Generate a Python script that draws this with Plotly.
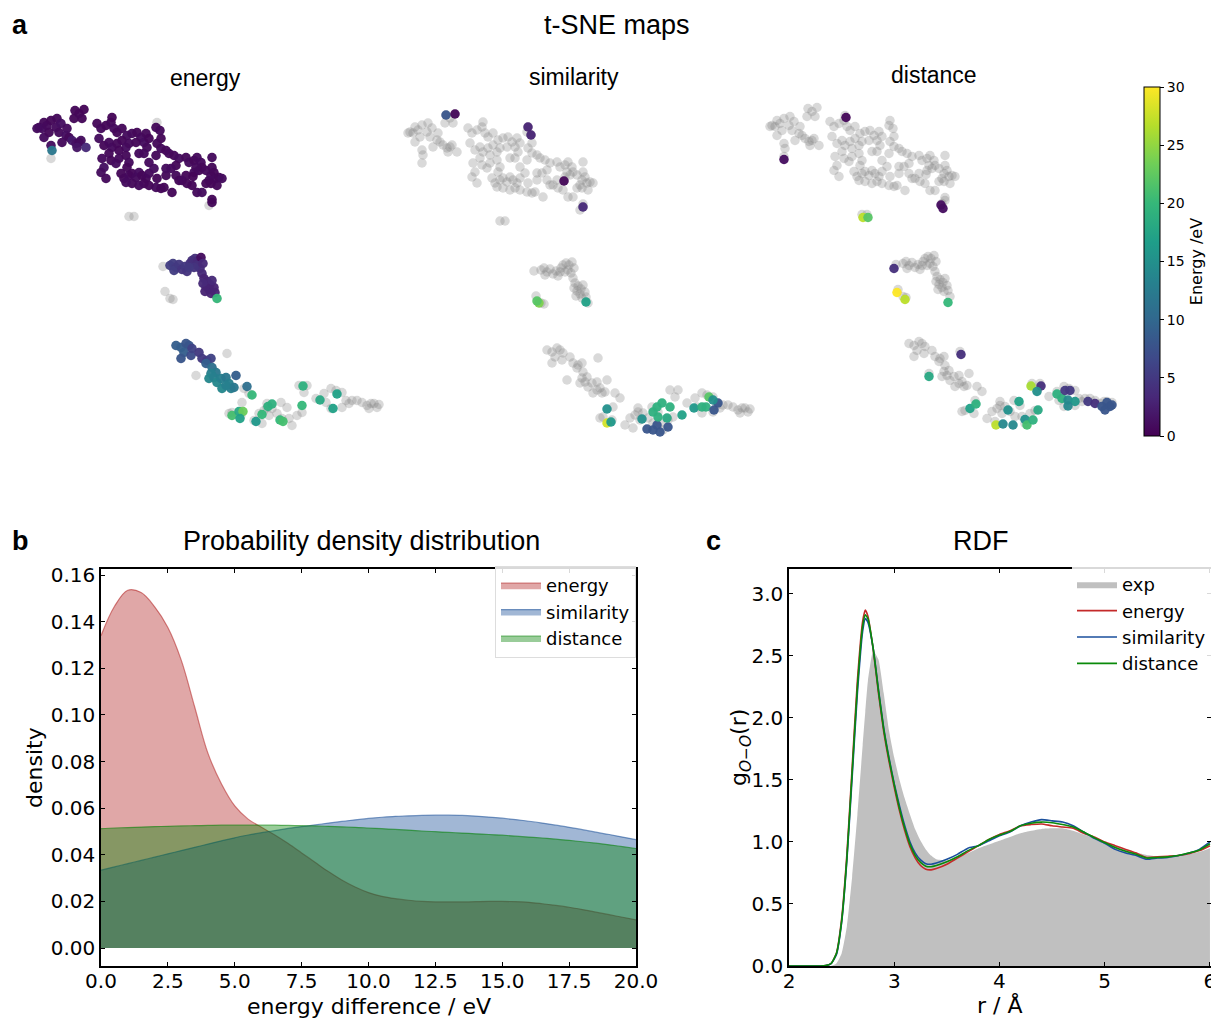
import plotly.graph_objects as go

W, H = 1211, 1018

# ---------------- t-SNE embedding (arbitrary units, y grows downward) ----------------
TOP_X = [10, 15, 13, 8, 18, 22, 28, 27, 32, 30, 38, 37, 40, 43, 47, 50, 52, 48, 57, 33,
         15, 20, 22, 23, 22, 45, 53, 50, 46, 55,
         68, 72, 77, 82, 83, 85, 88, 93, 98, 103, 108, 112, 117, 115, 118, 120, 127, 70, 75, 80,
         83, 88, 93, 97, 100, 90, 80, 73, 82, 87, 90, 97, 100, 98, 75, 72, 77, 92, 95, 100,
         103, 107, 110, 113, 117, 120, 125, 115, 110, 103, 97, 120, 127, 132, 135, 132, 137, 140, 145, 150,
         147, 142, 137, 147, 150, 157, 160, 165, 168, 172, 173, 170, 165, 167, 157, 153, 158, 163, 168, 173,
         177, 180, 182, 185, 187, 190, 193, 188, 183, 182, 177, 183, 132, 110, 127, 137, 143, 115, 107, 128,
         120, 128, 128, 131, 164, 183, 180, 183]
TOP_Y = [32, 27, 33, 33, 30, 25, 23, 32, 28, 37, 33, 40, 42, 45, 48, 47, 45, 52, 52, 47,
         42, 37, 50, 55, 63, 23, 23, 18, 15, 14,
         28, 33, 30, 27, 22, 33, 37, 33, 40, 38, 37, 42, 38, 47, 52, 43, 32, 43, 50, 47,
         52, 48, 45, 52, 48, 55, 58, 63, 65, 68, 63, 60, 67, 72, 72, 77, 83, 78, 83, 80,
         78, 82, 77, 80, 83, 78, 73, 88, 90, 88, 87, 90, 92, 93, 92, 53, 55, 58, 60, 63,
         70, 73, 80, 80, 85, 62, 67, 65, 62, 67, 72, 75, 77, 72, 80, 85, 88, 90, 97, 97,
         88, 85, 80, 77, 83, 82, 83, 90, 62, 88, 75, 72, 43, 58, 60, 73, 97, 58, 47, 48,
         67, 83, 27, 35, 81, 107, 110, 104]
# energies of the top-cluster points picked in the "energy" map (None = not picked)
TOP_E = [0.8, 0.6, 1.0, 0.9, 0.7, 0.5, 0.6, 0.8, 1.2, 0.7, 0.9, 1.1, 0.6, 2.0, 1.4, 0.8, 0.9, 1.6, 3.5, 0.7,
         0.9, 0.6, 1.0, 12.0, None, 0.5, 0.4, 0.6, 0.5, 0.3,
         0.5, 0.7, 0.4, 0.6, 0.3, 0.8, 0.5, 0.6, 0.9, 0.7, 0.5, 0.8, 0.6, 1.0, 0.7, 0.4, 0.6, 0.9, 0.5, 0.7,
         0.8, 0.6, 0.5, 0.9, 0.7, 0.4, 0.6, 0.8, 0.5, 1.0, 0.7, 0.6, 0.8, 0.5, 1.2, 0.9, 0.7, 0.5, 0.6, 0.8,
         0.4, 0.7, 0.9, 0.5, 0.6, 0.8, 1.0, 0.5, 0.7, 0.6, 0.9, 0.5, 0.7, 0.4, 0.6, 0.8, 0.5, 0.7, 0.6, 0.9,
         0.5, 0.8, 0.6, 0.7, 0.4, 0.6, 0.9, 0.5, 0.7, 0.8, 0.6, 0.5, 0.9, 0.7, 0.4, 0.8, 0.6, 0.5, 0.7, 0.9,
         0.5, 0.6, 0.8, 0.4, 0.7, 0.5, 0.9, 0.6, 0.8, 0.5, 0.7, 0.6, 0.5, 0.8, 0.6, 0.9, 0.4, 0.7, 0.5, 0.6,
         0.8, 0.5, None, 0.7, 0.3, 0.6, None, 0.5]

MID_X = [134, 141, 144, 147, 145, 150, 153, 156, 158, 161, 163, 166, 169, 172, 168, 171, 165, 160, 174, 173,
         175, 178, 181, 177, 174, 180, 185, 183, 176, 182, 186, 188, 136, 141, 144]
MID_Y = [171, 170, 168, 172, 175, 169, 174, 171, 176, 168, 165, 163, 165, 162, 170, 173, 172, 172, 168, 178,
         183, 186, 189, 191, 188, 194, 192, 185, 196, 198, 197, 203, 196, 203, 204]
MID_E = [None, 5.5, 5.5, 5, 5.5, 5, 4.5, 5, 4.5, 4.5, 4, 4, 3.5, 1.0, 4, 4, 4.5, 5, 3.5, 3.5,
         3, 3, 3, 3, 3.5, 3, 3, 3.5, 3, 3, 3, 20, None, None, None]

BOT_X = [147, 152, 157, 160, 155, 152, 162, 163, 170, 173, 178, 182, 177, 183, 187, 182, 180, 185, 188, 192,
         197, 200, 202, 205, 207, 193, 197,
         215, 220, 203, 200, 213, 212, 225, 230, 233, 238, 238, 243, 248, 253, 260, 263, 268, 273, 270, 278,
         275, 287, 295, 297, 302, 307, 313, 317, 320, 323, 328, 333, 338, 342, 345, 348, 350, 340, 313, 302,
         240, 235, 252, 258, 198, 167]
BOT_Y = [250, 252, 248, 250, 257, 263, 260, 253, 257, 263, 265, 263, 268, 272, 277, 278, 283, 282, 287, 283,
         282, 288, 293, 292, 280, 293, 290,
         293, 298, 317, 318, 307, 320, 325, 318, 328, 308, 312, 313, 318, 323, 323, 330, 320, 317, 290, 290,
         297, 303, 298, 307, 293, 295, 297, 305, 308, 305, 305, 307, 310, 308, 308, 312, 309, 313, 312, 313,
         320, 315, 307, 312, 258, 280]
# energies of the first bottom-cluster points picked in the "energy" map
EN_BOT_E = [9, 9, 8, 8, 9, 8, 7, 6, 5, 5, 5, 6, 9, 11, 12, 13, 14, 13, 14, 13, 12, 13, 13, 12, 9, 14, 13]

ISO_X = [100, 105]
ISO_Y = [121, 121]

# further points picked in the "energy" map
EN_EX_X = [223, 203, 210, 214, 211, 227, 233, 239, 243, 251, 254, 274, 273, 291, 304, 308, 218]
EN_EX_Y = [299.5, 320, 316, 316, 323, 326, 319, 311, 308.5, 324.5, 326, 290.5, 310, 304.5, 313, 298.5, 291]
EN_EX_E = [20, 21, 18, 23, 17, 16, 20, 19, 19, 20, 21, 19, 20, 18, 17, 17, 11]

# points picked in the "similarity" map
SIM_X = [46, 55, 128, 131, 164, 183, 139, 137, 186,
         207, 207, 211, 247, 253, 260, 257, 268, 242, 253, 257, 262, 270, 258, 267, 282, 294, 302, 306, 309,
         318, 314, 313]
SIM_Y = [15, 14, 27, 35, 81, 107, 203, 201, 202,
         309, 323, 322, 329, 330, 332, 325, 327, 319, 312, 307, 303, 307, 317, 318, 315, 308, 307, 307, 297,
         303, 310, 300]
SIM_E = [8, 0.5, 3, 3, 0.5, 3.5, 24, 22, 17,
         15, 28, 16, 8, 8, 8, 8, 8, 15, 19, 19, 19, 19, 19, 18, 17, 16, 19, 19, 22,
         8, 8, 15]

# points picked in the "distance" map
DIS_X = [84, 22, 179, 181, 101, 106, 132, 135, 143, 186, 199, 167,
         208, 214, 234, 241, 251, 246, 257, 263, 265, 271, 276, 269, 279, 275, 295, 300, 303, 308,
         306, 313, 306, 326, 333, 340, 345, 348, 343, 350]
DIS_Y = [24, 66, 111.5, 115, 124, 124, 175, 199, 206, 209, 261, 283,
         315, 310.5, 331.5, 330.5, 331.5, 316.5, 308, 326, 331.5, 326.5, 316.5, 292.5, 292.5, 298, 300.5, 305,
         297, 297, 306.5, 308, 312.5, 308, 310, 313, 309, 313, 316.5, 311.5]
DIS_E = [0.5, 1, 1, 1, 27, 22, 4, 30, 27, 20, 4, 18,
         17, 19, 27, 14, 14, 15, 17, 15, 21, 19, 18, 26, 4, 15, 19, 19, 5, 5,
         14, 16, 14, 5, 4, 8, 8, 8, 8, 8]

MAP_TITLES = ["energy", "similarity", "distance"]
CBAR_TICKS = [0, 5, 10, 15, 20, 25, 30]

# ---------------- probability density ----------------
KDE_X = [0, 0.5, 1, 1.5, 2, 2.5, 3, 3.5, 4, 4.5, 5, 5.5, 6, 6.5, 7, 7.5, 8, 8.5, 9, 9.5, 10,
         10.5, 11, 11.5, 12, 12.5, 13, 13.5, 14, 14.5, 15, 15.5, 16, 16.5, 17, 17.5, 18, 18.5, 19, 19.5, 20]
KDE_ENERGY = [0.134, 0.1465, 0.1535, 0.1525, 0.1465, 0.1375, 0.1235, 0.1035, 0.0835, 0.0705, 0.061, 0.0553,
              0.0518, 0.0485, 0.0448, 0.0408, 0.0368, 0.0328, 0.0292, 0.0262, 0.0238, 0.0222, 0.0212,
              0.0205, 0.0200, 0.0198, 0.0198, 0.0198, 0.0199, 0.0200, 0.0200, 0.0199, 0.0196, 0.0190,
              0.0183, 0.0175, 0.0165, 0.0154, 0.0143, 0.0132, 0.0121]
KDE_SIMILARITY = [0.0334, 0.0348, 0.0362, 0.0376, 0.039, 0.0404, 0.0418, 0.0432, 0.0446, 0.046, 0.0473,
                  0.0485, 0.0495, 0.0504, 0.0513, 0.0521, 0.0528, 0.0536, 0.0543, 0.055, 0.0556, 0.0561,
                  0.0565, 0.0567, 0.0569, 0.057, 0.057, 0.0569, 0.0566, 0.0562, 0.0557, 0.0551, 0.0544,
                  0.0536, 0.0527, 0.0518, 0.0508, 0.0497, 0.0487, 0.0476, 0.0465]
KDE_DISTANCE = [0.0512, 0.0515, 0.0517, 0.0519, 0.0521, 0.0522, 0.0524, 0.0525, 0.0526, 0.0527, 0.0527,
                0.0527, 0.0527, 0.0527, 0.0526, 0.0525, 0.0524, 0.0522, 0.052, 0.0518, 0.0515, 0.0512,
                0.0509, 0.0506, 0.0502, 0.0499, 0.0496, 0.0493, 0.049, 0.0487, 0.0484, 0.048, 0.0476,
                0.0472, 0.0467, 0.0462, 0.0456, 0.045, 0.0443, 0.0435, 0.0427]

# ---------------- RDF ----------------
R = [2.0, 2.3, 2.35, 2.4, 2.45, 2.5, 2.55, 2.6, 2.65, 2.7, 2.725, 2.75, 2.8, 2.85, 2.9, 2.95, 3.0, 3.05,
     3.1, 3.15, 3.2, 3.25, 3.3, 3.35, 3.4, 3.5, 3.6, 3.7, 3.8, 3.9, 4.0, 4.1, 4.2, 4.3, 4.4, 4.5, 4.6,
     4.7, 4.8, 4.9, 5.0, 5.1, 5.2, 5.3, 5.4, 5.5, 5.6, 5.7, 5.8, 5.9, 6.0]
G_EXP = [0, 0, 0, 0, 0.02, 0.1, 0.32, 0.72, 1.22, 1.78, 2.05, 2.3, 2.54, 2.47, 2.2, 1.9, 1.68, 1.5,
         1.35, 1.22, 1.1, 1.01, 0.94, 0.89, 0.86, 0.85, 0.87, 0.91, 0.95, 0.98, 1.01, 1.04, 1.07, 1.09,
         1.105, 1.11, 1.11, 1.09, 1.06, 1.03, 1.0, 0.97, 0.94, 0.915, 0.895, 0.885, 0.885, 0.89, 0.9,
         0.92, 0.95]
G_ENERGY = [0, 0, 0.003, 0.02, 0.1, 0.38, 0.9, 1.6, 2.3, 2.78, 2.87, 2.82, 2.55, 2.2, 1.89, 1.65, 1.44,
            1.25, 1.09, 0.96, 0.87, 0.81, 0.78, 0.775, 0.785, 0.82, 0.87, 0.92, 0.97, 1.02, 1.06, 1.09, 1.13,
            1.14, 1.145, 1.13, 1.12, 1.11, 1.07, 1.04, 1.0, 0.97, 0.94, 0.91, 0.875, 0.88, 0.885, 0.89,
            0.905, 0.93, 0.97]
G_SIMILARITY = [0, 0, 0.003, 0.02, 0.09, 0.35, 0.85, 1.52, 2.2, 2.7, 2.8, 2.77, 2.56, 2.23, 1.92, 1.68,
                1.47, 1.29, 1.13, 1.0, 0.91, 0.855, 0.825, 0.82, 0.83, 0.86, 0.9, 0.95, 0.97, 1.01, 1.05,
                1.08, 1.13, 1.16, 1.18, 1.17, 1.16, 1.13, 1.08, 1.03, 0.99, 0.94, 0.91, 0.89, 0.86, 0.87,
                0.875, 0.89, 0.91, 0.94, 1.0]
G_DISTANCE = [0, 0, 0.003, 0.02, 0.1, 0.36, 0.87, 1.56, 2.25, 2.74, 2.83, 2.8, 2.56, 2.22, 1.91, 1.67,
              1.46, 1.27, 1.11, 0.98, 0.89, 0.835, 0.805, 0.8, 0.81, 0.84, 0.88, 0.93, 0.97, 1.02, 1.055,
              1.085, 1.13, 1.15, 1.16, 1.155, 1.14, 1.12, 1.08, 1.035, 0.995, 0.955, 0.925, 0.9, 0.87,
              0.875, 0.88, 0.89, 0.91, 0.935, 0.985]

# ---------------- styling ----------------
SANS = "Liberation Sans, Arial, sans-serif"
DJV = "DejaVu Sans, sans-serif"
PAGE_OFF = 0  # body margin is removed below, so the figure starts at the window corner


def px_x(p):
    return (p - PAGE_OFF) / W


def px_y(p):
    return 1 - (p - PAGE_OFF) / H


fig = go.Figure()

# map placement: window-pixel offset of embedding origin in each panel
MAP_OFF = [(29, 95.5), (400, 100), (762, 93.5)]
XR = [-5, 360]
YR = [-10, 345]

grey_x = TOP_X + MID_X + BOT_X + ISO_X
grey_y = TOP_Y + MID_Y + BOT_Y + ISO_Y

en_x, en_y, en_e = [], [], []
for xs, ys, es in ((TOP_X, TOP_Y, TOP_E), (MID_X, MID_Y, MID_E), (BOT_X, BOT_Y, EN_BOT_E)):
    for x, y, e in zip(xs, ys, es):
        if e is not None:
            en_x.append(x)
            en_y.append(y)
            en_e.append(e)
en_x += EN_EX_X
en_y += EN_EX_Y
en_e += EN_EX_E

picked = [(en_x, en_y, en_e), (SIM_X, SIM_Y, SIM_E), (DIS_X, DIS_Y, DIS_E)]

for i in range(3):
    ax = "" if i == 0 else str(i + 1)
    xa, ya = "x" + ax, "y" + ax
    fig.add_trace(go.Scatter(x=grey_x, y=grey_y, mode="markers", xaxis=xa, yaxis=ya,
                             marker=dict(size=9.5, color="grey", opacity=0.3),
                             showlegend=False, hoverinfo="skip"))
    px_, py_, pe_ = picked[i]
    fig.add_trace(go.Scatter(
        x=px_, y=py_, mode="markers", xaxis=xa, yaxis=ya, showlegend=False,
        marker=dict(size=9.5, color=pe_, colorscale="Viridis", cmin=0, cmax=30, opacity=0.95,
                    showscale=(i == 0),
                    colorbar=dict(x=px_x(1144), xanchor="left", xpad=0, ypad=0,
                                  y=px_y((87 + 436) / 2), yanchor="middle",
                                  len=349 / H, lenmode="fraction", thickness=16,
                                  outlinewidth=1, outlinecolor="black",
                                  tickvals=CBAR_TICKS, ticks="outside", ticklen=4,
                                  tickcolor="black",
                                  tickfont=dict(family=DJV, size=14, color="black"),
                                  title=dict(text="Energy /eV", side="right",
                                             font=dict(family=DJV, size=16, color="black")))),
    ))
    ox, oy = MAP_OFF[i]
    fig.layout["xaxis" + ax] = dict(domain=[px_x(ox + XR[0]), px_x(ox + XR[1])], range=XR,
                                    visible=False, anchor=ya, automargin=False)
    fig.layout["yaxis" + ax] = dict(domain=[px_y(oy + YR[1]), px_y(oy + YR[0])],
                                    range=[YR[1], YR[0]], visible=False, anchor=xa,
                                    automargin=False)

# ---------------- panel b ----------------
kde_specs = [("energy", KDE_ENERGY, "rgba(178,34,34,0.4)", "rgba(178,34,34,0.55)"),
             ("similarity", KDE_SIMILARITY, "rgba(20,75,150,0.4)", "rgba(20,75,150,0.55)"),
             ("distance", KDE_DISTANCE, "rgba(0,128,0,0.4)", "rgba(0,128,0,0.55)")]
for name, ys, fc, lc in kde_specs:
    fig.add_trace(go.Scatter(x=KDE_X, y=ys, mode="lines", fill="tozeroy", fillcolor=fc,
                             line=dict(color=lc, width=1.2, shape="spline", smoothing=1.0),
                             name=name, xaxis="x4", yaxis="y4", legend="legend"))

axis_common = dict(ticks="inside", ticklen=4, tickwidth=1, tickcolor="black", showline=True,
                   linecolor="black", linewidth=1.5, mirror="ticks", showgrid=False, zeroline=False,
                   automargin=False,
                   tickfont=dict(family=DJV, size=20, color="black"))
fig.layout["xaxis4"] = dict(domain=[px_x(101), px_x(636)], range=[0, 20], tick0=0, dtick=2.5,
                            tickformat=".1f", anchor="y4", ticklabelstandoff=-4, **axis_common)
fig.layout["yaxis4"] = dict(domain=[px_y(966), px_y(569)], range=[-0.0077, 0.1626], tick0=0,
                            dtick=0.02, tickformat=".2f", anchor="x4", **axis_common)

# ---------------- panel c ----------------
fig.add_trace(go.Scatter(x=R, y=G_EXP, mode="lines", fill="tozeroy", fillcolor="#c0c0c0",
                         line=dict(color="#c0c0c0", width=0, shape="spline", smoothing=0.5),
                         name="exp", xaxis="x5", yaxis="y5", legend="legend2"))
for name, ys, col in (("energy", G_ENERGY, "#c42a2a"), ("similarity", G_SIMILARITY, "#1a4f9c"),
                      ("distance", G_DISTANCE, "#0a8a0a")):
    fig.add_trace(go.Scatter(x=R, y=ys, mode="lines", name=name, xaxis="x5", yaxis="y5",
                             line=dict(color=col, width=1.6, shape="spline", smoothing=0.5),
                             legend="legend2"))

fig.layout["xaxis5"] = dict(domain=[px_x(789), 1.0], range=[2, 6.01], tick0=2, dtick=1,
                            anchor="y5", ticklabelstandoff=-4, ticklabeloverflow="allow",
                            **axis_common)
fig.layout["yaxis5"] = dict(domain=[px_y(966), px_y(569)], range=[0, 3.2], tick0=0, dtick=0.5,
                            tickformat=".1f", anchor="x5", **axis_common)

# ---------------- annotations ----------------
ann = []


def text(s, x, y, size, family=SANS, angle=0, xanchor="center", bold=False):
    if bold:
        s = "<b>" + s + "</b>"
    ann.append(dict(text=s, x=px_x(x), y=px_y(y), xref="paper", yref="paper", showarrow=False,
                    xanchor=xanchor, yanchor="middle", textangle=angle,
                    font=dict(family=family, size=size, color="black")))


text("a", 10, 25, 27, xanchor="left", bold=True)
text("t-SNE maps", 617, 25, 27)
text(MAP_TITLES[0], 205, 78, 23)
text(MAP_TITLES[1], 574, 77, 23)
text(MAP_TITLES[2], 934, 75, 23)
text("b", 10, 541, 27, xanchor="left", bold=True)
text("Probability density distribution", 361, 541, 27)
text("c", 704, 541, 27, xanchor="left", bold=True)
text("RDF", 981, 541, 27)
text("density", 34, 768, 22, family=DJV, angle=-90)
text("energy difference / eV", 369, 1006, 22, family=DJV)
text("g<sub><i>O</i>\u2212<i>O</i></sub>(r)", 740, 748, 22, family=DJV, angle=-90)
text("r / \u00c5", 1000, 1005, 22, family=DJV)

fig.update_layout(
    width=W, height=H, margin=dict(l=0, r=0, t=0, b=0, autoexpand=False),
    paper_bgcolor="white", plot_bgcolor="white",
    annotations=ann,
    legend=dict(x=px_x(636), xanchor="right", y=px_y(566), yanchor="top",
                bgcolor="rgba(255,255,255,0.85)", bordercolor="#dddddd", borderwidth=1,
                font=dict(family=DJV, size=18, color="black"), itemwidth=40, tracegroupgap=0),
    legend2=dict(x=1.0, xanchor="right", y=px_y(566), yanchor="top",
                 bgcolor="rgba(255,255,255,0.85)", borderwidth=0,
                 font=dict(family=DJV, size=18, color="black"), itemwidth=40, tracegroupgap=0),
)

fig.write_html("out.html", config={"displayModeBar": False},
               post_script="document.body.style.margin='0';document.body.style.overflow='hidden';")
